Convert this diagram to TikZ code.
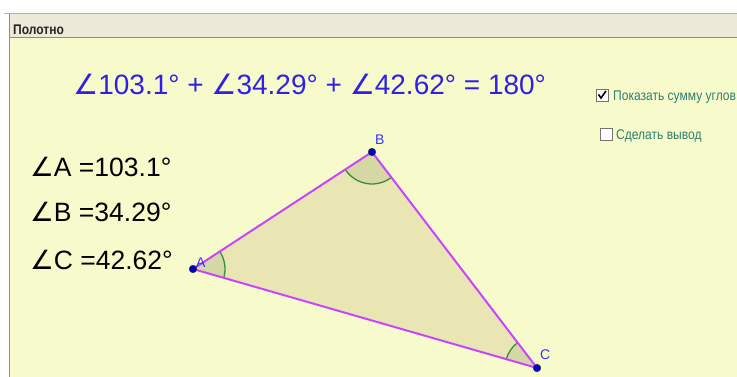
\documentclass[tikz,border=0pt]{standalone}
\usepackage{fontspec}
\setmainfont{Liberation Sans}
\newfontfamily\narrowfont[FakeStretch=0.86]{Liberation Sans}
\newfontfamily\angfont{DejaVu Sans}
\usepackage{xcolor}
\usetikzlibrary{calc}
\definecolor{canvasbg}{HTML}{F7FBCB}
\definecolor{headbg}{HTML}{ECE9D8}
\definecolor{trifill}{HTML}{EAE6B4}
\definecolor{secfill}{HTML}{D5D8A3}
\definecolor{arcgreen}{HTML}{3C8C3C}
\definecolor{edgeviolet}{HTML}{C844FF}
\definecolor{ptblue}{HTML}{0000C8}
\definecolor{labblue}{HTML}{3333FF}
\definecolor{eqblue}{HTML}{3020E6}
\definecolor{boxteal}{HTML}{2E7D6E}
\tikzset{
  edge/.style={line width=2pt, edgeviolet},
  sector/.style={fill=secfill},
  arcline/.style={line width=1.3pt, arcgreen},
  vertex/.style={fill=ptblue, draw=black!80, line width=0.5pt},
  vlabel/.style={anchor=base west, text=labblue, font=\fontsize{14}{16}\selectfont, inner sep=0pt},
  anglabel/.style={anchor=base west, font=\fontsize{26.5}{30}\selectfont, inner sep=0pt},
  checkbox/.style={fill=white, draw=black!55, line width=0.8pt},
  boxtext/.style={anchor=base west, text=boxteal, font=\narrowfont\fontsize{14}{16}\selectfont, inner sep=0pt}
}
\newcommand{\ang}{{\angfont ∠}}
\newcommand{\arcrad}{32}
% filled sector and its arc at a vertex
\newcommand{\anglemark}[3]{%
  \fill[sector] (#1) -- ++(#2:\arcrad) arc[start angle=#2,end angle=#3,radius=\arcrad] -- cycle;
  \draw[arcline] ($(#1)+(#2:\arcrad)$) arc[start angle=#2,end angle=#3,radius=\arcrad];}

\begin{document}
\begin{tikzpicture}[x=1pt,y=1pt]
\useasboundingbox (0,0) rectangle (737,377);
\fill[white] (0,0) rectangle (737,377);

% window frame
\fill[canvasbg] (9,0) rectangle (737,340);
\fill[headbg] (9,340) rectangle (737,363.5);
\draw[black!30, line width=0.8pt] (4,363.5) -- (737,363.5);
\draw[black!45, line width=0.8pt] (9,340) -- (737,340);
\draw[black!45, line width=0.8pt] (9,0) -- (9,363.5);
\node[anchor=base west, inner sep=0pt, text=black!85, font=\narrowfont\bfseries\fontsize{14}{16}\selectfont] (title) at (13,342.3) {Полотно};

% triangle
\coordinate (A) at (193,108);
\coordinate (B) at (372,225);
\coordinate (C) at (537,9);
\fill[trifill] (A) -- (B) -- (C) -- cycle;
\anglemark{A}{-16.05}{33.17}
\anglemark{B}{213.17}{307.4}
\anglemark{C}{127.4}{163.95}
\draw[edge] (A) -- (B) -- (C) -- cycle;
\foreach \P in {A,B,C} {
    \filldraw[vertex] (\P) circle (3.8);
}
\node[vlabel] (labA) at (196,109) {A};
\node[vlabel] (labB) at (375,232) {B};
\node[vlabel] (labC) at (540,17) {C};

% sum of angles
\node[anchor=base west, inner sep=0pt, text=eqblue, font=\fontsize{28}{34}\selectfont] (sum) at (73,282)
    {\ang103.1° + \ang34.29° + \ang42.62° = 180°};

% angle values
\node[anglabel] (angA) at (30,200) {\ang A =103.1°};
\node[anglabel] (angB) at (30,155) {\ang B =34.29°};
\node[anglabel] (angC) at (30,107) {\ang C =42.62°};

% check boxes
\filldraw[checkbox] (596,276) rectangle (608,288);
\draw[black, line width=1.6pt] (598.5,282.5) -- (601,279) -- (606,286);
\node[boxtext] (show) at (613,276.5) {Показать сумму углов};
\filldraw[checkbox] (600,237) rectangle (612,249);
\node[boxtext] (concl) at (616,237) {Сделать вывод};
\end{tikzpicture}
\end{document}
